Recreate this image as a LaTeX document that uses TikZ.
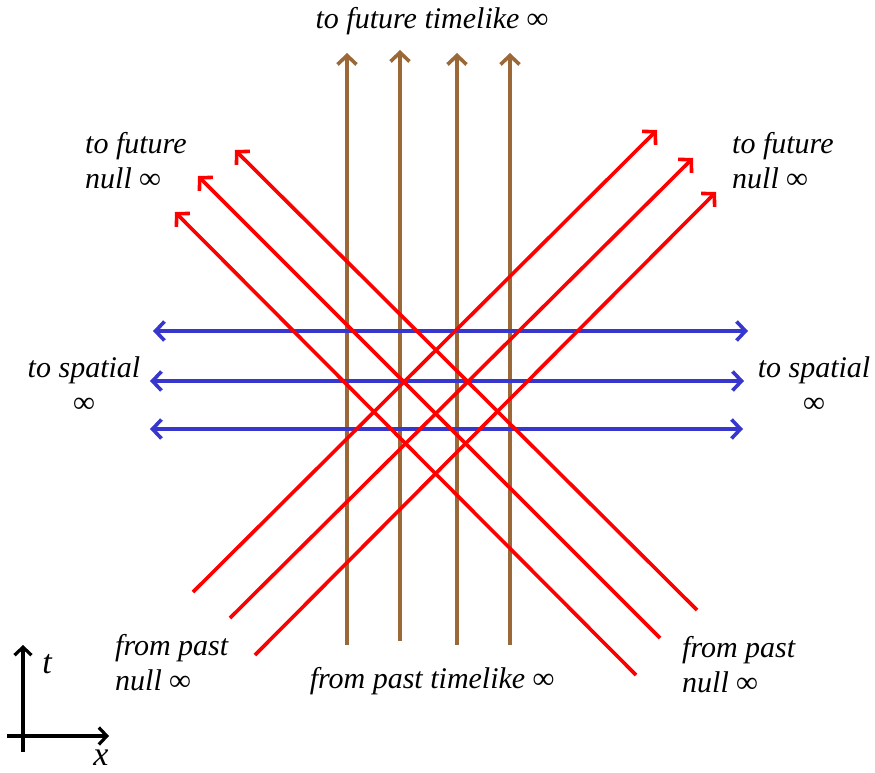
\documentclass[tikz,border=0pt]{standalone}
\usepackage{fontspec}
\setmainfont{Liberation Serif}
\usepackage{tikz}
\usetikzlibrary{arrows.meta}
\definecolor{rouge}{RGB}{255, 0, 0}
\definecolor{bleu}{RGB}{55, 55, 205}
\definecolor{brun}{RGB}{155, 105, 55}

\begin{document}
\begin{tikzpicture}[x=1pt, y=-1pt,
    fleche/.style={-{Straight Barb[length=9pt, width=19pt]}, line width=3.6pt},
    lumiere/.style={fleche, color=rouge},
    espace/.style={fleche, {Straight Barb[length=9pt, width=19pt]}-{Straight Barb[length=9pt, width=19pt]}, color=bleu},
    temps/.style={fleche, color=brun},
    axe/.style={-{Straight Barb[length=8pt, width=17pt]}, line width=3.2pt, color=black},
    etiquette/.style={inner sep=0pt, font=\fontsize{30}{35}\selectfont\itshape}
  ]
    \useasboundingbox (0,0) rectangle (875,773);

    % lignes de genre temps
    \foreach \i/\x/\yh/\yb in {1/347/53/645, 2/400/50/641, 3/457/53/645, 4/510/53/645} {
      \coordinate (tb\i) at (\x,\yb);
      \coordinate (th\i) at (\x,\yh);
      \draw[temps] (tb\i) -- (th\i);
    }

    % lignes de genre espace
    \foreach \i/\y/\xg/\xd in {1/331/153/748, 2/381/150/744, 3/429/150/743} {
      \coordinate (eg\i) at (\xg,\y);
      \coordinate (ed\i) at (\xd,\y);
      \draw[espace] (eg\i) -- (ed\i);
    }

    % rayons lumineux
    \foreach \i/\xa/\ya/\xb/\yb in {1/193/592/657/130, 2/230/618/693/158, 3/255/655/716/192} {
      \coordinate (rd\i) at (\xa,\ya);
      \coordinate (rf\i) at (\xb,\yb);
      \draw[lumiere] (rd\i) -- (rf\i);
    }
    \foreach \i/\xa/\ya/\xb/\yb in {1/697/610/235/150, 2/660/638/198/176, 3/636/675/175/212} {
      \coordinate (ld\i) at (\xa,\ya);
      \coordinate (lf\i) at (\xb,\yb);
      \draw[lumiere] (ld\i) -- (lf\i);
    }

    % axes
    \coordinate (tbas) at (23,752);
    \coordinate (thaut) at (23,645);
    \coordinate (xg) at (7,736);
    \coordinate (xd) at (109,736);
    \draw[axe] (tbas) -- (thaut);
    \draw[axe] (xg) -- (xd);
    \node[etiquette, font=\fontsize{34}{35}\selectfont\itshape] (t) at (47,664) {t};
    \node[etiquette, font=\fontsize{34}{35}\selectfont\itshape] (x) at (101,758) {x};

    % textes
    \node[etiquette] (futT) at (432,21) {to future timelike ∞};
    \node[etiquette] (pasT) at (432,681) {from past timelike ∞};
    \node[etiquette, align=left, anchor=west] (futG) at (85,161) {to future\\null ∞};
    \node[etiquette, align=left, anchor=west] (futD) at (732,161) {to future\\null ∞};
    \node[etiquette, align=center] (espG) at (84,385) {to spatial\\∞};
    \node[etiquette, align=center] (espD) at (814,385) {to spatial\\∞};
    \node[etiquette, align=left, anchor=west] (pasG) at (115,663) {from past\\null ∞};
    \node[etiquette, align=left, anchor=west] (pasD) at (682,665) {from past\\null ∞};
\end{tikzpicture}
\end{document}
